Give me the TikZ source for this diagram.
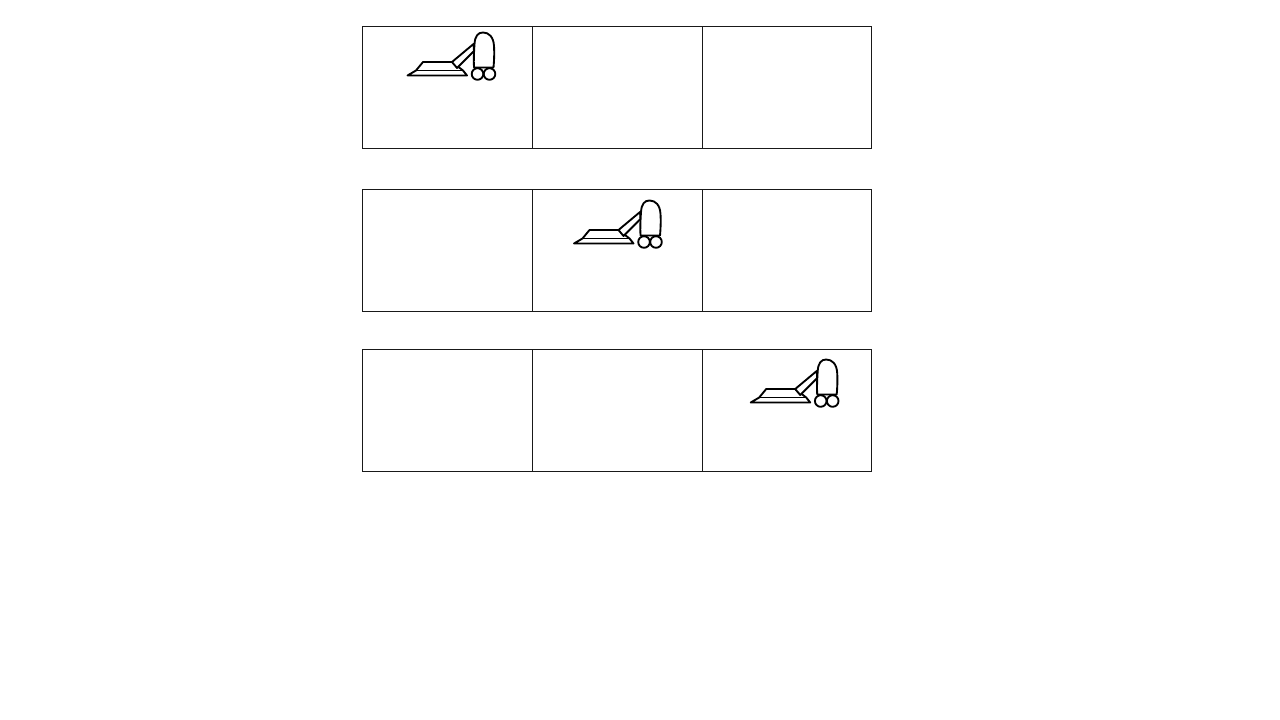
\documentclass[tikz,border=0pt]{standalone}
\tikzset{
  px/.style={x=0.75pt,y=-0.75pt},
  gridline/.style={draw=black!90,line width=0.8pt},
  vac/.style={draw=black,line width=1.4pt,line join=round,fill=white}
}
\newcommand{\panel}[2]{%
  \draw[gridline] (362.8,#1) rectangle (871.5,#2);
  \draw[gridline] (532.5,#1) -- (532.5,#2);
  \draw[gridline] (702.2,#1) -- (702.2,#2);
}
\newcommand{\vacuum}[2]{%
  \begin{scope}[shift={(#1,#2)}]
    \draw[vac] (407.5,75.5) -- (416,70.5) -- (423,62) -- (452,62) -- (463,70.5) -- (467,75.5) -- cycle;
    \draw[vac] (416,70.5) -- (463,70.5);
    \draw[vac] (452,62) -- (473.5,44) -- (474,51) -- (457,68) -- cycle;
    \draw[vac] (474,67.5) .. controls (473.5,60) and (474,52) .. (474.5,44)
       .. controls (475,36) and (478,32.5) .. (483,32.5)
       .. controls (489,32.5) and (493.5,37) .. (494,46)
       .. controls (494.5,54) and (494,62) .. (493.5,67.5) -- cycle;
    \draw[vac] (477.5,74) circle[radius=5.8];
    \draw[vac] (489.5,74) circle[radius=5.8];
  \end{scope}
}
\begin{document}
\begin{tikzpicture}[px]
  \useasboundingbox (0,0) rectangle (1280,720);
  \fill[white] (0,0) rectangle (1280,720);
  \panel{26.5}{148.6}
  \panel{189.5}{311.5}
  \panel{349.5}{471.6}
  \vacuum{0}{0}
  \vacuum{166.5}{168}
  \vacuum{343.2}{327}
\end{tikzpicture}
\end{document}
